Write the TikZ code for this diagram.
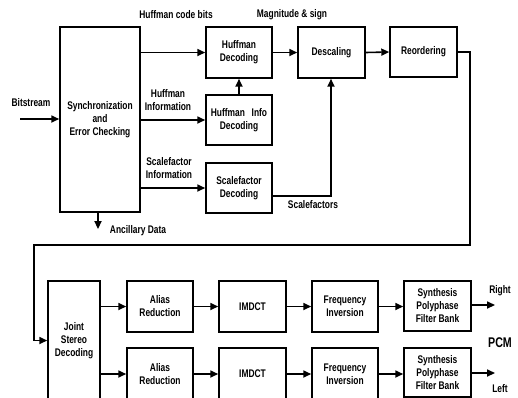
\documentclass[tikz,border=0pt]{standalone}
\usepackage{fontspec}
\newfontfamily\lab[FakeStretch=0.76]{Liberation Sans Bold}
\usetikzlibrary{arrows.meta}
\newcommand\blk[6]{%
  \node[blkbox, minimum width={(#4-#2)*0.02cm}, minimum height={(#5-#3)*0.02cm}]
    (#1) at ({(#2+#4)/2},{(#3+#5)/2}) {#6};}
\begin{document}
\begin{tikzpicture}[x=0.02cm,y=-0.02cm,
  blkbox/.style={draw, line width=0.9pt, inner sep=0pt, align=center,
    font=\lab\fontsize{6.3}{7.4}\selectfont},
  lbl/.style={inner sep=0pt, align=center, font=\lab\fontsize{6.3}{7.4}\selectfont},
  arr/.style={line width=0.9pt, -{Triangle[length=4.5pt,width=4pt]}},
  ln/.style={line width=0.9pt}]
\useasboundingbox (0,0) rectangle (518,397);
\clip (0,0) rectangle (518,397);
% top section
\blk{sync}{60}{27}{140}{212}{Synchronization\\and\\Error Checking}
\blk{hd}{206}{27}{272}{78}{Huffman\\Decoding}
\blk{hid}{206}{95}{272}{145}{Huffman\hspace{0.6em}Info\\Decoding}
\blk{sfd}{206}{163}{272}{213}{Scalefactor\\Decoding}
\blk{desc}{298}{27}{365}{78}{Descaling}
\blk{reord}{390}{27}{457}{77}{Reordering}
% bottom section
\blk{jsd}{48}{281}{100}{400}{Joint\\Stereo\\Decoding}
\blk{ara}{127}{281}{193}{332}{Alias\\Reduction}
\blk{arb}{127}{348}{193}{400}{Alias\\Reduction}
\blk{ima}{219}{281}{286}{332}{IMDCT}
\blk{imb}{219}{348}{286}{400}{IMDCT}
\blk{fia}{312}{281}{378}{332}{Frequency\\Inversion}
\blk{fib}{312}{348}{378}{400}{Frequency\\Inversion}
\blk{spa}{404}{281}{471}{331}{Synthesis\\Polyphase\\Filter Bank}
\blk{spb}{404}{348}{471}{397}{Synthesis\\Polyphase\\Filter Bank}
% labels
\node[lbl] (lbs) at (31,103) {Bitstream};
\node[lbl] (lhcb) at (176,15) {Huffman code bits};
\node[lbl] (lmag) at (292,15) {Magnitude \& sign};
\node[lbl] (lhi) at (168,100) {Huffman\\Information};
\node[lbl] (lsi) at (169,168) {Scalefactor\\Information};
\node[lbl] (lsf) at (313,205) {Scalefactors};
\node[lbl] (lanc) at (138,231) {Ancillary Data};
\node[lbl] (lr) at (500,291) {Right};
\node[lbl, font=\lab\fontsize{8}{9}\selectfont] (lpcm) at (500,343) {PCM};
\node[lbl] (ll) at (500,389) {Left};
% coordinates
\coordinate (bs) at (20,119);
\coordinate (anc) at (98,229);
\coordinate (sfc) at (331,196);
\coordinate (c1) at (470,245);
\coordinate (c2) at (34,245);
\coordinate (ora) at (495,305);
\coordinate (orb) at (495,373);
% connectors top
\draw[arr] (bs) -- (bs -| sync.west);
\draw[arr] (anc |- sync.south) -- (anc);
\draw[arr] (sync.east |- hd.west) -- (hd.west);
\draw[arr] (sync.east |- hid.west) -- (hid.west);
\draw[arr] (sync.east |- sfd.west) -- (sfd.west);
\draw[arr] (hid.north -| 239,0) -- (hd.south -| 239,0);
\draw[arr] (hd.east) -- (desc.west);
\draw[arr] (desc.east) -- (reord.west);
\draw[arr] (sfd.east |- sfc) -- (sfc) -- (sfc |- desc.south);
\draw[arr] (reord.east) -| (c1) -- (c2) |- (jsd.west);
% connectors bottom
\draw[arr] (jsd.east |- ara.west) -- (ara.west);
\draw[arr] (jsd.east |- arb.west) -- (arb.west);
\draw[arr] (ara) -- (ima);
\draw[arr] (arb) -- (imb);
\draw[arr] (ima) -- (fia);
\draw[arr] (imb) -- (fib);
\draw[arr] (fia.east) -- (fia.east -| spa.west);
\draw[arr] (fib.east) -- (fib.east -| spb.west);
\draw[arr] (spa.east |- ora) -- (ora);
\draw[arr] (spb.east |- orb) -- (orb);
\end{tikzpicture}
\end{document}
